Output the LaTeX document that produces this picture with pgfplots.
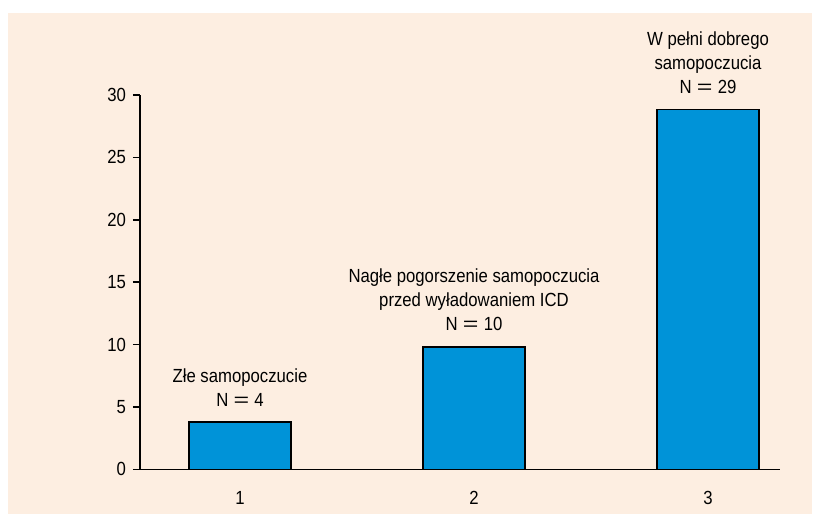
\documentclass[border=0pt]{standalone}
\usepackage{fontspec}
\setmainfont{Liberation Sans}[FakeStretch=0.88]
\usepackage{graphicx}
\usepackage{pgfplots}
\pgfplotsset{compat=1.18}
\definecolor{peach}{RGB}{253,238,225}
\definecolor{barblue}{RGB}{0,147,216}
\newcommand{\eq}{\hspace{2.6pt}\scalebox{1.6}[1]{=}\hspace{2.6pt}}
\begin{document}
\begin{tikzpicture}
\path[use as bounding box] (0,0) rectangle (407.5pt,257pt);
\fill[peach] (4pt,0pt) rectangle (406pt,250.5pt);
\begin{axis}[
  at={(70pt,22.35pt)}, anchor=south west,
  scale only axis, width=320pt, height=187.15pt,
  xmin=0.5726, xmax=3.3077, ymin=0, ymax=30,
  axis lines*=left,
  axis line style={line width=0.75pt, black},
  every tick/.style={line width=0.75pt, black},
  tick align=outside,
  ytick={0,5,...,30},
  xtick={1,2,3},
  major tick length=3.5pt,
  x tick style={draw=none},
  /pgf/number format/assume math mode=true,
  tick label style={font=\fontsize{9.5}{12}\selectfont},
  xticklabel style={anchor=base, yshift=-14pt},
  clip=false,
]
\addplot[ybar, bar width=51pt, fill=barblue, draw=black, line width=0.7pt] coordinates {(1,3.8) (2,9.8) (3,28.85)};
\node[anchor=south, inner sep=0pt, yshift=7.3pt, align=center, font=\fontsize{9.5}{12}\selectfont] at (axis cs:1,3.8) {Złe samopoczucie\\N\eq4};
\node[anchor=south, inner sep=0pt, yshift=7.8pt, align=center, font=\fontsize{9.5}{12}\selectfont] at (axis cs:2,9.8) {Nagłe pogorszenie samopoczucia\\przed wyładowaniem ICD\\N\eq10};
\node[anchor=south, inner sep=0pt, yshift=7.5pt, align=center, font=\fontsize{9.5}{12}\selectfont] at (axis cs:3,28.85) {W pełni dobrego\\samopoczucia\\N\eq29};
\end{axis}
\end{tikzpicture}
\end{document}
